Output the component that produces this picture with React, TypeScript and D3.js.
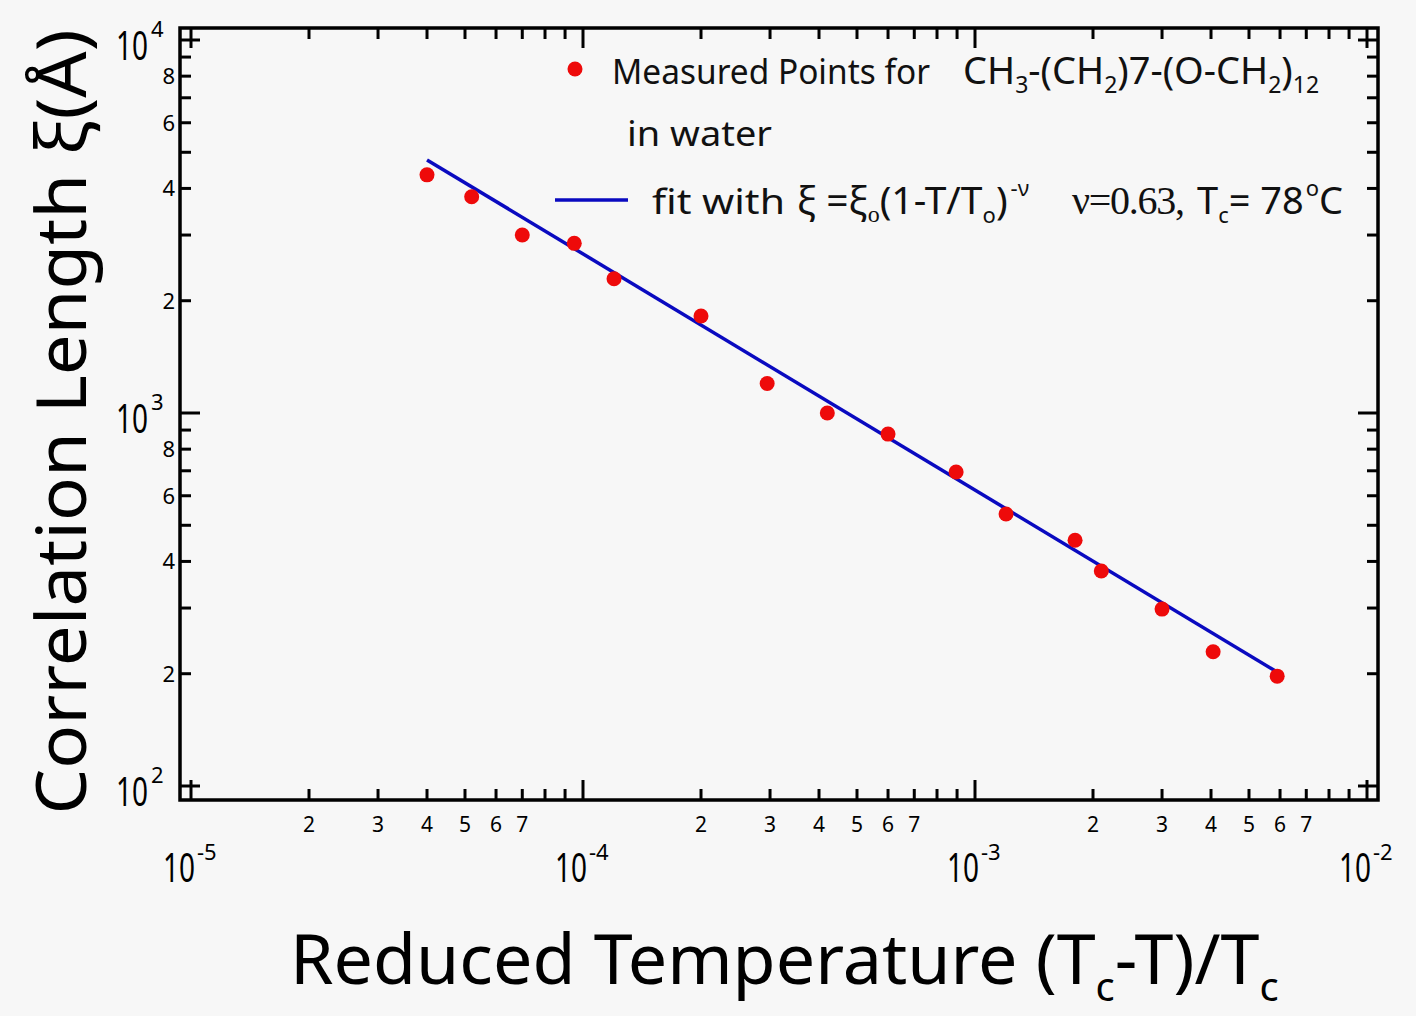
import React, { useEffect, useRef } from 'react';
import * as d3 from 'd3';

// measured points
const reducedTemp = [4.0e-5, 5.2e-5, 7.0e-5, 9.5e-5, 1.2e-4, 2.0e-4, 2.95e-4, 4.2e-4, 6.0e-4, 8.95e-4, 1.2e-3, 1.8e-3, 2.1e-3, 3.0e-3, 4.05e-3, 5.9e-3];
const corrLength = [4350, 3800, 3000, 2850, 2290, 1820, 1200, 1000, 878, 695, 536, 456, 377, 298, 229, 197];

// fitted power law (straight line in log-log), end points
const fitT = [4.0e-5, 5.9e-3];
const fitXi = [4770, 202];

const xDecades = [-5, -4, -3, -2];
const yDecades = [2, 3, 4];
const xMinorLabels = [2, 3, 4, 5, 6, 7];
const yMinorLabels = [2, 4, 6, 8];

const FONT = "'Noto Sans', sans-serif";
const SERIF = "'Liberation Serif', serif";

export default function App() {
  const svgRef = useRef<SVGSVGElement>(null);

  useEffect(() => {
    const width = 1416;
    const height = 1016;
    const frame = { left: 180, right: 1378, top: 28, bottom: 800 };

    const x = d3.scaleLog().domain([1e-5, 1e-2]).range([191, 1367]);
    const y = d3.scaleLog().domain([1e2, 1e4]).range([786, 40]);

    const svg = d3.select(svgRef.current).attr('width', width).attr('height', height);
    svg.selectAll('*').remove();

    svg.append('rect').attr('width', width).attr('height', height).attr('fill', '#f7f7f7');

    const mant = (v: number) => {
      const d = Math.floor(Math.log10(v) + 1e-9);
      return Math.round(v / Math.pow(10, d));
    };

    const ticks = svg.append('g').attr('stroke', '#000').attr('stroke-width', 3);
    const xt = x.ticks();
    const yt = y.ticks();
    const len = (v: number) => (mant(v) === 1 ? 20 : 11);

    // bottom + top ticks
    ticks.selectAll('.xb').data(xt).join('line')
      .attr('x1', (d) => x(d)).attr('x2', (d) => x(d))
      .attr('y1', frame.bottom).attr('y2', (d) => frame.bottom - len(d));
    ticks.selectAll('.xt').data(xt).join('line')
      .attr('x1', (d) => x(d)).attr('x2', (d) => x(d))
      .attr('y1', frame.top).attr('y2', (d) => frame.top + len(d));
    // left + right ticks
    ticks.selectAll('.yl').data(yt).join('line')
      .attr('y1', (d) => y(d)).attr('y2', (d) => y(d))
      .attr('x1', frame.left).attr('x2', (d) => frame.left + len(d));
    ticks.selectAll('.yr').data(yt).join('line')
      .attr('y1', (d) => y(d)).attr('y2', (d) => y(d))
      .attr('x1', frame.right).attr('x2', (d) => frame.right - len(d));

    svg.append('rect')
      .attr('x', frame.left).attr('y', frame.top)
      .attr('width', frame.right - frame.left).attr('height', frame.bottom - frame.top)
      .attr('fill', 'none').attr('stroke', '#000').attr('stroke-width', 3.5);

    // minor tick labels
    svg.append('g').attr('font-family', FONT).attr('font-size', 21).attr('text-anchor', 'middle')
      .selectAll('text').data(xt.filter((d) => xMinorLabels.includes(mant(d)))).join('text')
      .attr('x', (d) => x(d)).attr('y', 832).text((d) => mant(d));
    svg.append('g').attr('font-family', FONT).attr('font-size', 22).attr('text-anchor', 'end')
      .selectAll('text').data(yt.filter((d) => yMinorLabels.includes(mant(d)))).join('text')
      .attr('x', 175).attr('y', (d) => y(d) + 8).text((d) => mant(d));

    // decade labels: "10" squeezed to the narrow width of the original, exponent beside it
    const dec = svg.append('g').attr('font-family', FONT);
    dec.selectAll('.xb10').data(xDecades).join('text')
      .attr('x', (d) => x(Math.pow(10, d)) - 28).attr('y', 882).attr('font-size', 40)
      .attr('textLength', 32).attr('lengthAdjust', 'spacingAndGlyphs').text('10');
    dec.selectAll('.xexp').data(xDecades).join('text')
      .attr('x', (d) => x(Math.pow(10, d)) + 6).attr('y', 860).attr('font-size', 22)
      .text((d) => String(d));
    dec.selectAll('.yb10').data(yDecades).join('text')
      .attr('x', 116).attr('y', (d) => y(Math.pow(10, d)) + 20).attr('font-size', 40)
      .attr('textLength', 32).attr('lengthAdjust', 'spacingAndGlyphs').text('10');
    dec.selectAll('.yexp').data(yDecades).join('text')
      .attr('x', 151).attr('y', (d) => y(Math.pow(10, d)) - 3).attr('font-size', 22)
      .text((d) => String(d));

    // fit line
    const fitData = fitT.map((t, i) => [t, fitXi[i]] as [number, number]);
    svg.append('path').datum(fitData)
      .attr('d', d3.line<[number, number]>().x((d) => x(d[0])).y((d) => y(d[1])))
      .attr('fill', 'none').attr('stroke', '#0a0ac0').attr('stroke-width', 3.5);

    // points
    svg.append('g').attr('fill', '#ee0a0a')
      .selectAll('circle').data(reducedTemp).join('circle')
      .attr('cx', (d) => x(d)).attr('cy', (d, i) => y(corrLength[i])).attr('r', 7.5);

    // legend
    const lg = svg.append('g').attr('font-family', FONT).attr('font-size', 35).attr('fill', '#111');
    lg.append('circle').attr('cx', 575).attr('cy', 69).attr('r', 7.5).attr('fill', '#ee0a0a');
    lg.append('text').attr('x', 612).attr('y', 84).attr('textLength', 318).attr('lengthAdjust', 'spacingAndGlyphs')
      .text('Measured Points for');
    const l1 = lg.append('text').attr('x', 963).attr('y', 84).attr('font-size', 38);
    l1.append('tspan').text('CH');
    l1.append('tspan').attr('font-size', 23).attr('dy', 9).text('3');
    l1.append('tspan').attr('dy', -9).text('-(CH');
    l1.append('tspan').attr('font-size', 23).attr('dy', 9).text('2');
    l1.append('tspan').attr('dy', -9).text(')7-(O-CH');
    l1.append('tspan').attr('font-size', 23).attr('dy', 9).text('2');
    l1.append('tspan').attr('dy', -9).text(')');
    l1.append('tspan').attr('font-size', 23).attr('dy', 9).text('12');
    lg.append('text').attr('x', 627).attr('y', 146).attr('textLength', 145).attr('lengthAdjust', 'spacingAndGlyphs')
      .text('in water');

    lg.append('line').attr('x1', 555).attr('x2', 628).attr('y1', 200).attr('y2', 200)
      .attr('stroke', '#0a0ac0').attr('stroke-width', 3.5);
    lg.append('text').attr('x', 652).attr('y', 214).attr('textLength', 133).attr('lengthAdjust', 'spacingAndGlyphs')
      .text('fit with');
    const l3 = lg.append('text').attr('x', 797).attr('y', 214).attr('font-size', 39);
    l3.append('tspan').text('ξ =ξ');
    l3.append('tspan').attr('font-family', SERIF).attr('font-size', 24).attr('dy', 8).text('o');
    l3.append('tspan').attr('dy', -8).text('(1-T/T');
    l3.append('tspan').attr('font-size', 22).attr('dy', 9).text('o');
    l3.append('tspan').attr('dy', -9).text(')');
    l3.append('tspan').attr('font-size', 22).attr('dy', -18).attr('dx', 3).text('-ν');
    lg.append('text').attr('x', 1072).attr('y', 214).attr('font-family', SERIF).attr('font-size', 40)
      .attr('textLength', 113).text('ν=0.63,');
    const l4 = lg.append('text').attr('x', 1197).attr('y', 214).attr('font-size', 38);
    l4.append('tspan').text('T');
    l4.append('tspan').attr('font-size', 22).attr('dy', 9).text('c');
    l4.append('tspan').attr('dy', -9).text('= 78');
    l4.append('tspan').attr('font-size', 22).attr('dy', -18).attr('dx', 2).text('o');
    l4.append('tspan').attr('dy', 18).text('C');

    // axis titles
    svg.append('text').attr('font-family', FONT).attr('font-size', 70)
      .attr('transform', 'translate(86,422) rotate(-90)').attr('text-anchor', 'middle')
      .attr('textLength', 785).attr('lengthAdjust', 'spacingAndGlyphs')
      .text('Correlation Length ξ(Å)');
    const xtitle = svg.append('text').attr('font-family', FONT).attr('font-size', 70)
      .attr('x', 290).attr('y', 984);
    xtitle.append('tspan').text('Reduced Temperature (T');
    xtitle.append('tspan').attr('font-size', 40).attr('dy', 17).text('c');
    xtitle.append('tspan').attr('dy', -17).text('-T)/T');
    xtitle.append('tspan').attr('font-size', 40).attr('dy', 17).text('c');
  }, []);

  return (
    <>
      <style>{`body{margin:0}`}</style>
      <svg ref={svgRef}></svg>
    </>
  );
}
